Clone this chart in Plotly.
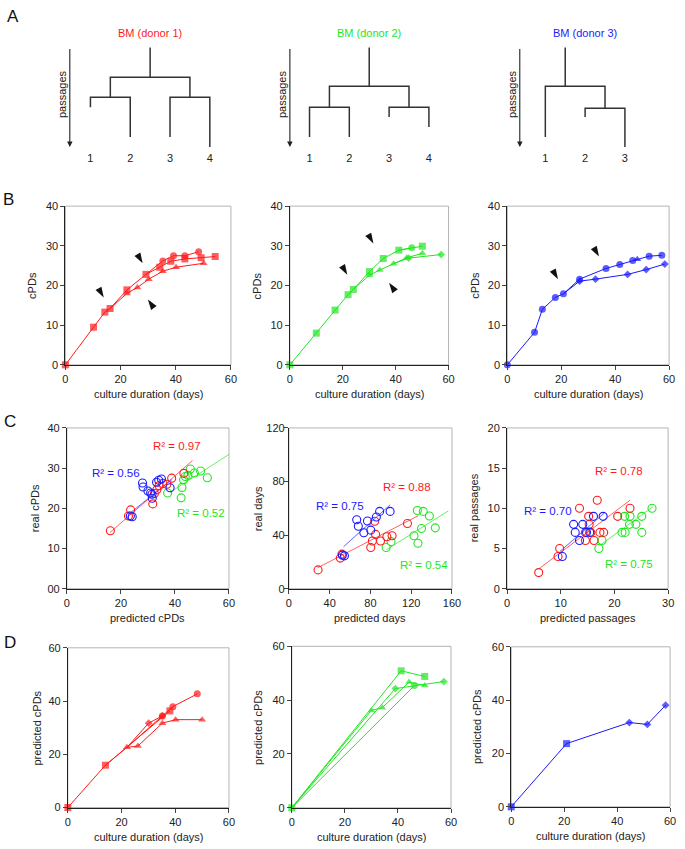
import plotly.graph_objects as go

W, H = 685, 849
FONT = "Liberation Sans, Arial, sans-serif"
RED, GREEN, BLUE = "#ff1a1a", "#22e622", "#1a1aff"
INK = "#222222"

# ======================= DATA =======================
# --- A: dendrograms (passage depth of leaves and merges) ---
donor_titles = ["BM (donor 1)", "BM (donor 2)", "BM (donor 3)"]
leaf_labels = [["1", "2", "3", "4"], ["1", "2", "3", "4"], ["1", "2", "3"]]
leaf_passage = [[6, 9, 9, 10], [9, 9, 7, 8], [9, 7, 10]]
merge_pairs = [[(0, 1), (2, 3), (4, 5)], [(0, 1), (2, 3), (4, 5)], [(1, 2), (0, 3)]]
merge_passage = [[5, 5, 3], [6, 6, 3.9], [6.1, 3.9]]
root_position = [None, None, 1.5]

# --- B: cumulative population doublings vs culture duration ---
b1_sq_days = [0, 10.2, 14.3, 16.2, 22.3, 29.2, 34.2, 38.2, 43.3, 49.2, 54.3]
b1_sq_cpd = [0, 9.5, 13.3, 14.2, 18.9, 22.8, 24.6, 26.1, 26.7, 27.0, 27.3]
b1_ci_days = [29.2, 35.3, 39.2, 43.3, 48.3]
b1_ci_cpd = [22.8, 26.2, 27.5, 27.5, 28.5]
b1_tr_days = [16.2, 22.3, 26.1, 30.2, 35.3, 40.1, 50.1]
b1_tr_cpd = [14.2, 18.0, 19.5, 21.6, 23.6, 24.6, 25.6]

b2_sq_days = [0, 10.0, 17.1, 22.0, 24.0, 30.1, 35.3, 41.2, 50.1]
b2_sq_cpd = [0, 8.0, 13.8, 17.7, 19.0, 23.5, 26.8, 28.9, 29.9]
b2_ci_days = [41.2, 46.1]
b2_ci_cpd = [28.9, 29.5]
b2_tr_days = [24.0, 30.1, 34.0, 39.2, 44.2, 50.1]
b2_tr_cpd = [19.0, 22.6, 23.9, 25.5, 27.0, 28.1]
b2_di_days = [39.2, 44.9, 57.2]
b2_di_cpd = [25.5, 26.9, 27.8]

b3_ci_days = [0, 10.1, 13.0, 17.8, 20.8, 26.8, 36.6, 41.7, 46.5, 52.6, 57.3]
b3_ci_cpd = [0, 8.2, 14.0, 17.0, 17.9, 21.6, 24.3, 25.3, 26.3, 27.4, 27.6]
b3_tr_days = [46.5, 48.2]
b3_tr_cpd = [26.3, 26.6]
b3_di_days = [20.8, 26.8, 32.7, 44.6, 51.5, 58.4]
b3_di_cpd = [17.9, 21.1, 21.6, 22.8, 24.0, 25.4]

# arrowhead marks (days, cPDs, direction)
b1_marks = [(13.9, 17.0, "dr"), (28.0, 25.6, "dr"), (29.9, 16.5, "ul")]
b2_marks = [(21.7, 22.7, "dr"), (31.6, 30.6, "dr"), (37.5, 20.7, "ul")]
b3_marks = [(18.8, 21.6, "dr"), (34.0, 27.3, "dr")]

# --- C: real vs predicted ---
c1_red_pred = [16.1, 22.8, 23.6, 31.8, 32.4, 33.3, 34.1, 35.5, 37.0, 38.8, 43.3]
c1_red_real = [14.4, 18.1, 19.6, 21.1, 23.7, 24.6, 25.6, 26.2, 26.0, 27.5, 28.7]
c1_blue_pred = [23.5, 24.2, 28.0, 28.2, 30.0, 31.0, 31.5, 31.6, 33.2, 34.0, 35.0, 38.2]
c1_blue_real = [18.1, 17.9, 26.3, 25.3, 24.3, 23.8, 23.5, 22.5, 26.5, 27.0, 27.3, 25.1]
c1_green_pred = [37.3, 42.3, 42.6, 43.2, 43.8, 44.8, 45.7, 47.2, 49.5, 52.0]
c1_green_real = [23.8, 22.6, 25.2, 27.1, 27.9, 28.2, 29.8, 28.8, 29.3, 27.6]
c1_fit = {"red": ([16, 46.5], [14.0, 31.9]), "blue": ([23, 39], [18.6, 27.2]),
          "green": ([38.2, 60], [24.0, 33.4])}
c1_r2 = {"red": "R² = 0.97", "blue": "R² = 0.56", "green": "R² = 0.52"}

c2_red_pred = [28.6, 50.4, 52.0, 80.3, 81.9, 85.1, 84.2, 89.9, 96.1, 101.2, 116.3]
c2_red_real = [14.0, 22.8, 25.8, 30.7, 35.6, 40.5, 50.3, 35.6, 38.8, 39.5, 48.6]
c2_blue_pred = [52.5, 54.5, 66.5, 68.1, 73.5, 77.1, 80.3, 85.8, 89.0, 99.3]
c2_blue_real = [25.0, 24.5, 51.5, 46.6, 41.7, 50.5, 43.7, 53.5, 57.7, 57.7]
c2_green_pred = [95.4, 100.2, 122.7, 126.6, 126.0, 131.8, 137.8, 130.1, 143.6]
c2_green_real = [30.7, 35.1, 39.5, 33.9, 58.4, 57.7, 54.3, 44.9, 45.4]
c2_fit = {"red": ([28, 127], [15.5, 54.5]), "blue": ([53.7, 99.3], [31.4, 62.6]),
          "green": ([95.5, 156.4], [29.0, 58.0])}
c2_r2 = {"red": "R² = 0.88", "blue": "R² = 0.75", "green": "R² = 0.54"}

c3_red_pred = [5.9, 9.5, 9.8, 13.5, 14.6, 14.6, 15.2, 15.3, 15.6, 16.2, 16.8, 17.3, 18.0, 20.6, 22.9]
c3_red_real = [2, 4, 5, 10, 7, 6, 9, 8, 7, 6, 11, 7, 7, 9, 10]
c3_blue_pred = [10.3, 12.4, 12.7, 13.5, 14.1, 14.8, 15.4, 16.1, 17.9]
c3_blue_real = [4, 8, 7, 6, 8, 7, 7, 9, 9]
c3_green_pred = [17.1, 17.7, 21.4, 22.0, 22.8, 24.0, 21.9, 22.9, 25.1, 25.1, 27.0]
c3_green_real = [5, 6, 7, 7, 8, 8, 9, 9, 9, 7, 10]
c3_fit = {"red": ([6.0, 22.9], [2.5, 11.0]), "blue": ([9.8, 18.1], [4.6, 9.4]),
          "green": ([17.3, 27.2], [5.4, 10.2])}
c3_r2 = {"red": "R² = 0.78", "blue": "R² = 0.70", "green": "R² = 0.75"}

# --- D: predicted cPDs vs culture duration ---
d1_sq_days = [0, 14.0, 38.0]
d1_sq_cpd = [0, 15.9, 36.3]
d1_tr_days = [14.0, 22.0, 26.1, 35.2, 40.1, 50.0]
d1_tr_cpd = [15.9, 22.6, 23.1, 31.7, 33.0, 33.0]
d1_di_days = [22.0, 30.1, 35.2]
d1_di_cpd = [22.6, 31.7, 34.4]
d1_ci_days = [22.0, 35.2, 39.1, 48.2]
d1_ci_cpd = [22.6, 34.4, 37.9, 42.7]

d2_sq_days = [0, 41.2, 50.1]
d2_sq_cpd = [0, 50.9, 48.8]
d2_tr_days = [0, 30.0, 34.1, 44.2, 50.1]
d2_tr_cpd = [0, 36.2, 37.2, 46.7, 45.4]
d2_di_days = [0, 39.0, 57.3]
d2_di_cpd = [0, 44.3, 46.9]
d2_ci_days = [0, 46.2]
d2_ci_cpd = [0, 45.4]

d3_sq_days = [0, 20.9]
d3_sq_cpd = [0, 23.7]
d3_di_days = [20.9, 44.6, 51.4, 58.3]
d3_di_cpd = [23.7, 31.6, 30.9, 38.1]

# ======================= FIGURE =======================
fig = go.Figure()
layout = {}
annotations = []
shapes = []


def fx(px):
    return px / W


def fy(py):
    return 1 - py / H


def axname(i):
    return ("xaxis", "yaxis") if i == 1 else (f"xaxis{i}", f"yaxis{i}")


def axref(i):
    return ("x", "y") if i == 1 else (f"x{i}", f"y{i}")


def add_panel(i, xpx, ypx, xr, yr, xt, yt, xtitle, ytitle, yshift_title, ytext=None,
              ystandoff=None):
    xa, ya = axname(i)
    xr_, yr_ = axref(i)
    common = dict(showgrid=False, zeroline=False, showline=True, linecolor=INK, linewidth=1,
                  ticks="outside", ticklen=4, tickcolor="#444", tickwidth=1,
                  tickfont=dict(size=11, color=INK, family=FONT), fixedrange=True)
    layout[xa] = dict(domain=[fx(xpx[0]), fx(xpx[1])], range=xr, anchor=yr_,
                      tickvals=xt, **common)
    yd = dict(domain=[fy(ypx[1]), fy(ypx[0])], range=yr, anchor=xr_, tickvals=yt, **common)
    if ytext is not None:
        yd["ticktext"] = ytext
    if ystandoff is not None:
        yd["ticklabelstandoff"] = ystandoff
    layout[ya] = yd
    shapes.append(dict(type="rect", xref=f"{xr_} domain", yref=f"{yr_} domain",
                       x0=0, x1=1, y0=0, y1=1, line=dict(color="#b4b4b4", width=1),
                       layer="below"))
    annotations.append(dict(text=xtitle, xref=f"{xr_} domain", yref=f"{yr_} domain",
                            x=0.5, y=0, yshift=-29, showarrow=False, yanchor="middle",
                            font=dict(size=11, color=INK)))
    annotations.append(dict(text=ytitle, xref=f"{xr_} domain", yref=f"{yr_} domain",
                            x=0, y=0.5, xshift=yshift_title, showarrow=False,
                            textangle=-90, xanchor="center", yanchor="middle",
                            font=dict(size=11, color=INK)))


SYM_SIZE = {"square": 7, "circle": 7, "triangle-up": 7, "diamond": 6}


def series(i, xs, ys, color, symbol, hide=0, lw=1):
    xr_, yr_ = axref(i)
    size = SYM_SIZE[symbol]
    sizes = [0] * hide + [size] * (len(xs) - hide)
    fig.add_trace(go.Scatter(x=xs, y=ys, xaxis=xr_, yaxis=yr_, mode="lines+markers",
                             line=dict(color=color, width=lw),
                             marker=dict(symbol=symbol, size=sizes, color=color,
                                         line=dict(width=0)),
                             cliponaxis=False, showlegend=False, hoverinfo="skip"))


def marks(i, mk):
    xr_, yr_ = axref(i)
    ang = {"dr": 150, "ul": 325}
    fig.add_trace(go.Scatter(x=[m[0] for m in mk], y=[m[1] for m in mk], xaxis=xr_, yaxis=yr_,
                             mode="markers",
                             marker=dict(symbol="arrow", size=11, color="#111",
                                         angle=[ang[m[2]] for m in mk], line=dict(width=0)),
                             cliponaxis=False, showlegend=False, hoverinfo="skip"))


def scatter_open(i, xs, ys, color):
    xr_, yr_ = axref(i)
    fig.add_trace(go.Scatter(x=xs, y=ys, xaxis=xr_, yaxis=yr_, mode="markers",
                             marker=dict(symbol="circle-open", size=8, color=color,
                                         line=dict(width=1.1, color=color)),
                             cliponaxis=False, showlegend=False, hoverinfo="skip"))


def fitline(i, fit, color):
    xr_, yr_ = axref(i)
    fig.add_trace(go.Scatter(x=fit[0], y=fit[1], xaxis=xr_, yaxis=yr_, mode="lines",
                             line=dict(color=color, width=0.8), opacity=0.85,
                             showlegend=False, hoverinfo="skip"))


def r2label(i, text, x, y, color):
    xr_, yr_ = axref(i)
    annotations.append(dict(text=text, xref=xr_, yref=yr_, x=x, y=y, showarrow=False,
                            font=dict(size=11.5, color=color)))


# ---- row B ----
By = (203, 364)
add_panel(1, (63.5, 232), By, [0, 60], [0, 40], [0, 20, 40, 60], [0, 10, 20, 30, 40],
          "culture duration (days)", "cPDs", -33)
add_panel(2, (292, 453.5), By, [0, 60], [0, 40], [0, 20, 40, 60], [0, 10, 20, 30, 40],
          "culture duration (days)", "cPDs", -32)
add_panel(3, (513.3, 678), By, [0, 60], [0, 40], [0, 20, 40, 60], [0, 10, 20, 30, 40],
          "culture duration (days)", "cPDs", -32)

series(1, b1_tr_days, b1_tr_cpd, RED, "triangle-up", hide=1)
series(1, b1_ci_days, b1_ci_cpd, RED, "circle", hide=1)
series(1, b1_sq_days, b1_sq_cpd, RED, "square")
marks(1, b1_marks)

series(2, b2_tr_days, b2_tr_cpd, GREEN, "triangle-up", hide=1)
series(2, b2_di_days, b2_di_cpd, GREEN, "diamond", hide=1)
series(2, b2_ci_days, b2_ci_cpd, GREEN, "circle", hide=1)
series(2, b2_sq_days, b2_sq_cpd, GREEN, "square")
marks(2, b2_marks)

series(3, b3_di_days, b3_di_cpd, BLUE, "diamond", hide=1)
series(3, b3_tr_days, b3_tr_cpd, BLUE, "triangle-up", hide=1)
series(3, b3_ci_days, b3_ci_cpd, BLUE, "circle")
marks(3, b3_marks)

# ---- row C ----
Cy = (428, 591)
add_panel(4, (65, 230), Cy, [0, 60], [0, 40], [0, 20, 40, 60], [0, 10, 20, 30, 40],
          "predicted cPDs", "real cPDs", -32, ytext=["00", "10", "20", "30", "40"])
add_panel(5, (291, 457), Cy, [0, 160], [0, 120], [0, 40, 80, 120, 160], [0, 40, 80, 120],
          "predicted days", "real days", -31, ystandoff=-3)
add_panel(6, (513, 677), Cy, [0, 30], [0, 20], [0, 10, 20, 30], [0, 5, 10, 15, 20],
          "predicted passages", "real passages", -33)

for i, fit, r2, pts, lab in [
    (4, c1_fit, c1_r2,
     {"red": (c1_red_pred, c1_red_real), "blue": (c1_blue_pred, c1_blue_real),
      "green": (c1_green_pred, c1_green_real)},
     {"red": (40.7, 35.6), "blue": (18.2, 28.7), "green": (49.8, 18.9)}),
    (5, c2_fit, c2_r2,
     {"red": (c2_red_pred, c2_red_real), "blue": (c2_blue_pred, c2_blue_real),
      "green": (c2_green_pred, c2_green_real)},
     {"red": (115.8, 75.6), "blue": (50.0, 61.6), "green": (133.0, 17.4)}),
    (6, c3_fit, c3_r2,
     {"red": (c3_red_pred, c3_red_real), "blue": (c3_blue_pred, c3_blue_real),
      "green": (c3_green_pred, c3_green_real)},
     {"red": (20.9, 14.6), "blue": (7.7, 9.7), "green": (22.8, 3.1)}),
]:
    cmap = {"red": RED, "blue": BLUE, "green": GREEN}
    for k in ["green", "blue", "red"]:
        fitline(i, fit[k], cmap[k])
    for k in ["green", "red", "blue"]:
        scatter_open(i, pts[k][0], pts[k][1], cmap[k])
    for k in ["red", "blue", "green"]:
        r2label(i, r2[k], lab[k][0], lab[k][1], cmap[k])

# ---- row D ----
add_panel(7, (66, 230), (651, 813), [0, 60], [0, 60], [0, 20, 40, 60], [0, 20, 40, 60],
          "culture duration (days)", "predicted cPDs", -31)
add_panel(8, (294, 456), (649.5, 813.3), [0, 60], [0, 60], [0, 20, 40, 60], [0, 20, 40, 60],
          "culture duration (days)", "predicted cPDs", -34)
add_panel(9, (517.3, 679), (650, 812.3), [0, 60], [0, 60], [0, 20, 40, 60], [0, 20, 40, 60],
          "culture duration (days)", "predicted cPDs", -34)

series(7, d1_di_days, d1_di_cpd, RED, "diamond", hide=1)
series(7, d1_tr_days, d1_tr_cpd, RED, "triangle-up", hide=1)
series(7, d1_sq_days, d1_sq_cpd, RED, "square")
series(7, d1_ci_days, d1_ci_cpd, RED, "circle", hide=1)

series(8, d2_tr_days, d2_tr_cpd, GREEN, "triangle-up", hide=1)
series(8, d2_di_days, d2_di_cpd, GREEN, "diamond", hide=1)
series(8, d2_ci_days, d2_ci_cpd, GREEN, "circle", hide=1)
series(8, d2_sq_days, d2_sq_cpd, GREEN, "square")

series(9, d3_di_days, d3_di_cpd, BLUE, "diamond", hide=1)
series(9, d3_sq_days, d3_sq_cpd, BLUE, "square")

# ---- row A: dendrograms ----
LEAF_PX = [89, 312, 552]
UNIT = 40.5
ARROW_PX = [68, 292, 526]
TITLE_COLORS = [RED, GREEN, BLUE]
# depth mapping: y px = 42 + 10.1 * passage
for d in range(3):
    i = 10 + d
    xa, ya = axname(i)
    xr_, yr_ = axref(i)
    n = len(leaf_labels[d])
    L = LEAF_PX[d]
    x0px, x1px = L - 50, L + (n - 1) * UNIT + 20
    layout[xa] = dict(domain=[fx(x0px), fx(x1px)],
                      range=[1 - 50 / UNIT, n + 20 / UNIT], anchor=yr_,
                      showgrid=False, zeroline=False, showline=False, ticks="",
                      tickvals=list(range(1, n + 1)), ticktext=leaf_labels[d],
                      tickfont=dict(size=11, color=INK, family=FONT), fixedrange=True)
    layout[ya] = dict(domain=[fy(146), fy(34)], range=[10.3, -0.8], anchor=xr_,
                      visible=False, fixedrange=True)
    # build segments
    pos = [float(k + 1) for k in range(n)]
    dep = list(leaf_passage[d])
    xs, ys = [], []
    for (a, b), h in zip(merge_pairs[d], merge_passage[d]):
        xs += [pos[a], pos[a], pos[b], pos[b], None]
        ys += [dep[a], h, h, dep[b], None]
        pos.append((pos[a] + pos[b]) / 2)
        dep.append(h)
    root_x = root_position[d] if root_position[d] is not None else pos[-1]
    xs += [root_x, root_x, None]
    ys += [dep[-1], 0, None]
    fig.add_trace(go.Scatter(x=xs, y=ys, xaxis=xr_, yaxis=yr_, mode="lines",
                             line=dict(color="#333333", width=1.5),
                             showlegend=False, hoverinfo="skip"))
    ax_x = 1 + (ARROW_PX[d] - L) / UNIT
    annotations.append(dict(x=ax_x, y=10, xref=xr_, yref=yr_, ax=ax_x, ay=0,
                            axref=xr_, ayref=yr_, showarrow=True, arrowhead=2,
                            arrowsize=1, arrowwidth=1.1, arrowcolor="#222", text=""))
    annotations.append(dict(text="passages", x=ax_x, y=4.7, xref=xr_, yref=yr_,
                            xshift=-8, textangle=-90, showarrow=False,
                            font=dict(size=11, color=INK)))
    annotations.append(dict(text=donor_titles[d], x=(n + 1) / 2, xref=xr_, y=fy(27),
                            yref="paper", showarrow=False, yanchor="middle",
                            font=dict(size=11, color=TITLE_COLORS[d])))

# panel letters
for letter, (px, py) in zip("ABCD", [(10, 11), (6, 196), (7, 421), (7, 646)]):
    annotations.append(dict(text=letter, x=fx(px), y=fy(py), xref="paper", yref="paper",
                            showarrow=False, xanchor="center", yanchor="middle",
                            font=dict(size=17, color="#111")))

fig.update_layout(width=W, height=H, margin=dict(l=0, r=0, t=0, b=0),
                  paper_bgcolor="white", plot_bgcolor="white",
                  font=dict(family=FONT, size=11, color=INK),
                  annotations=annotations, shapes=shapes, **layout)

fig.write_html("out.html", config={"displayModeBar": False},
               post_script="document.body.style.margin='0';"
                           "document.body.style.overflow='hidden';")
